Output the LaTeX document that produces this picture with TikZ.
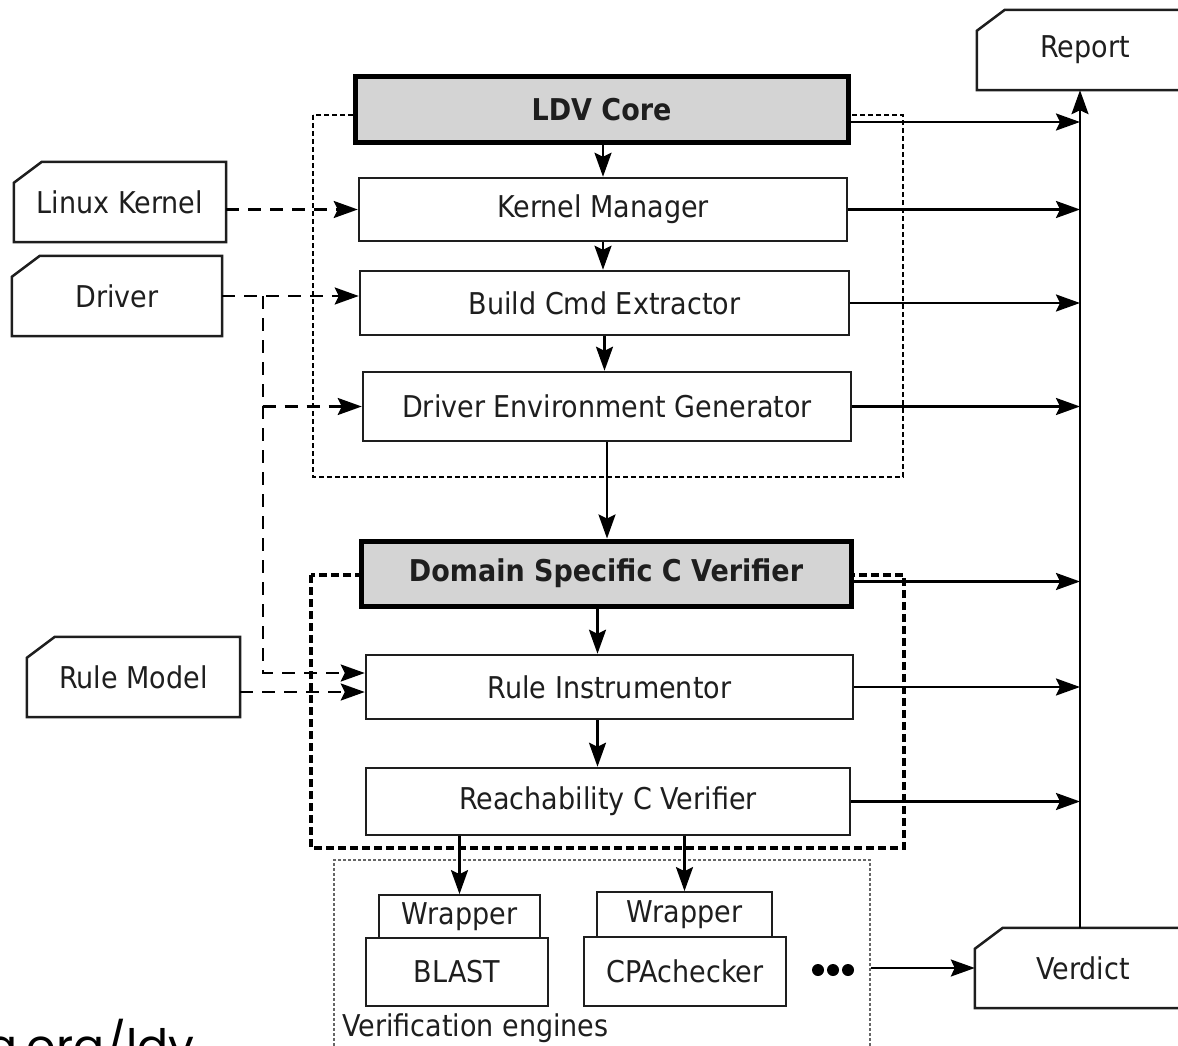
\documentclass[tikz,border=0pt]{standalone}
\usepackage{fontspec}
\setmainfont{DejaVu Sans}[FakeStretch=0.9]
\newfontfamily\urlfont{Poppins}
\usetikzlibrary{arrows.meta}
\definecolor{coregray}{RGB}{212,212,212}
\definecolor{ink}{RGB}{30,30,30}

\tikzset{
  every node/.style={font=\fontsize{30}{36}\selectfont, inner sep=0pt, text=ink},
  unit/.style={draw=ink, line width=2.5pt, fill=white},
  core/.style={draw=black, line width=5pt, fill=coregray, font=\fontsize{30}{36}\selectfont\bfseries},
  engine/.style={draw=ink, line width=1.8pt, fill=white},
  arr/.style={draw=black, line width=2.4pt, -{Stealth[length=24pt,width=17pt,inset=4pt]}},
  dasharr/.style={arr, dash pattern=on 13pt off 9pt},
  grpA/.style={line width=2.8pt, dash pattern=on 5pt off 3pt},
  grpB/.style={line width=3.2pt, dash pattern=on 8pt off 4pt},
  grpC/.style={line width=1.5pt, dash pattern=on 3pt off 2pt, black!60},
}

% outline of an input/output document: box with a cut top-left corner
\newcommand\docoutline[1]{%
  \draw[draw=ink, line width=2.5pt] ([xshift=28pt]#1.north west) -- (#1.north east)
    -- (#1.south east) -- (#1.south west) -- ([yshift=-21pt]#1.north west) -- cycle;}

\begin{document}
\begin{tikzpicture}[x=1pt,y=-1pt]
\useasboundingbox (0,0) rectangle (1178,1046);

% component groups
\draw[grpA] (313,115) rectangle (903,477);
\draw[grpB] (311,575) rectangle (904,848);

% LDV core pipeline
\node[core, minimum width=493, minimum height=66] (ldv) at (601.5,110) {LDV Core};
\node[unit, minimum width=488, minimum height=63] (km)  at (603,209.5) {Kernel Manager};
\node[unit, minimum width=489, minimum height=64] (bce) at (604.5,303) {Build Cmd Extractor};
\node[unit, minimum width=488, minimum height=69] (deg) at (607,406.5) {Driver Environment Generator};

% domain specific C verifier
\node[core, minimum width=490, minimum height=65] (dscv) at (606,573.5) {Domain Specific C Verifier};
\node[unit, minimum width=487, minimum height=64] (ri)  at (609.5,687) {Rule Instrumentor};
\node[unit, minimum width=484, minimum height=67] (rcv) at (608,801.5) {Reachability C Verifier};

% verification engines
\node[draw, grpC, minimum width=536, minimum height=200] (veng) at (602,960) {};
\node[anchor=west] (vlabel) at (342,1028) {Verification engines};
\node[engine, minimum width=161, minimum height=43] (w1) at (459.5,916.5) {Wrapper};
\node[engine, minimum width=182, minimum height=68] (blast) at (457,972) {BLAST};
\node[engine, minimum width=175, minimum height=45] (w2) at (684.5,914.5) {Wrapper};
\node[engine, minimum width=202, minimum height=69] (cpa) at (685,971.5) {CPAchecker};
\fill (818,970) circle (6) (833,970) circle (6) (848,970) circle (6);

% inputs and outputs
\node[minimum width=212, minimum height=80] (lk)  at (120,202) {Linux Kernel};
\node[minimum width=210, minimum height=80] (drv) at (117,296) {Driver};
\node[minimum width=213, minimum height=80] (rm)  at (133.5,677) {Rule Model};
\node[minimum width=216, minimum height=80] (report)  at (1085,50) {Report};
\node[minimum width=216, minimum height=80] (verdict) at (1083,968) {Verdict};
\docoutline{lk}
\docoutline{drv}
\docoutline{rm}
\docoutline{report}
\docoutline{verdict}

\coordinate (bus) at (1080,0);
\coordinate (split) at (263,0);

% control flow
\draw[arr] (ldv.south -| km.north) -- (km.north);
\draw[arr] (km.south) -- (km.south |- bce.north);
\draw[arr] (bce.south) -- (bce.south |- deg.north);
\draw[arr] (deg.south) -- (deg.south |- dscv.north);
\draw[arr] (dscv.south -| ri.north) ++(-12,0) -- ([xshift=-12pt]ri.north);
\draw[arr] ([xshift=-12pt]ri.south) -- ([xshift=-12pt]ri.south |- rcv.north);
\draw[arr] (w1.north |- rcv.south) -- (w1.north);
\draw[arr] (w2.north |- rcv.south) -- (w2.north);

% inputs
\draw[dasharr] (km.west -| lk.east) -- (km.west);
\draw[dasharr] (drv.east) -- (drv.east -| bce.west);
\draw[dasharr] (drv.east -| split) |- (deg.west);
\draw[dasharr] (drv.east -| split) |- ([yshift=14pt]ri.west);
\draw[dasharr] ([yshift=-15pt]rm.east) -- ([yshift=-15pt]rm.east -| ri.west);

% reports collected on the bus
\draw[arr] ([yshift=-12pt]ldv.east) -- ([yshift=-12pt]ldv.east -| bus);
\draw[arr] (km.east) -- (km.east -| bus);
\draw[arr] (bce.east) -- (bce.east -| bus);
\draw[arr] (deg.east) -- (deg.east -| bus);
\draw[arr] ([yshift=-8pt]dscv.east) -- ([yshift=-8pt]dscv.east -| bus);
\draw[arr] (ri.east) -- (ri.east -| bus);
\draw[arr] (rcv.east) -- (rcv.east -| bus);
\draw[arr] (veng.east |- verdict.west) -- (verdict.west);
\draw[arr] (verdict.north -| bus) -- (report.south -| bus);

% project address
\node[font=\urlfont\fontsize{46}{50}\selectfont, anchor=base east, text=black] (url) at (195,1062) {ng.org/ldv};
\end{tikzpicture}
\end{document}
